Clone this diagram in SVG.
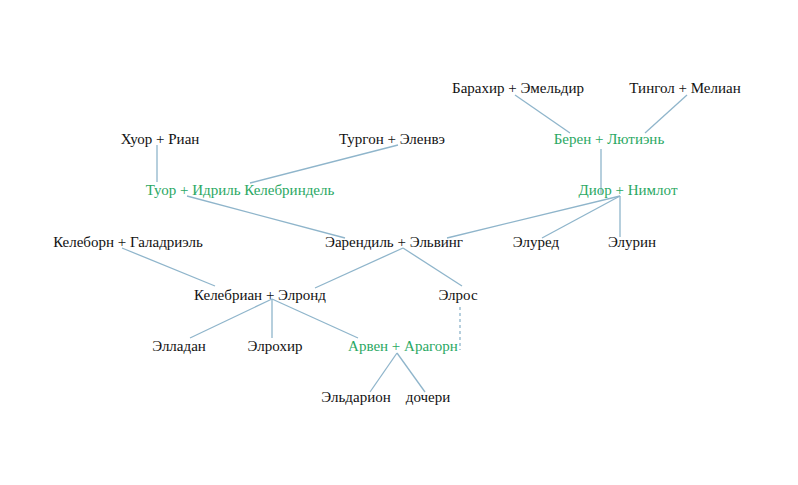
<svg xmlns="http://www.w3.org/2000/svg" width="798" height="485" viewBox="0 0 798 485">
<style>
text{font-family:"Liberation Serif","Times New Roman","DejaVu Serif",serif;font-size:15px;fill:#111;text-anchor:middle}
text.g{fill:#2aa863}
#connectors line{stroke:#8fb5cb;stroke-width:1.3}
#connectors line.d{stroke-dasharray:3,3}
</style>
<rect width="798" height="485" fill="#fff"/>
<g id="connectors">
<line x1="515" y1="95" x2="570" y2="133"/>
<line x1="687" y1="95" x2="645" y2="133"/>
<line x1="601" y1="149" x2="601" y2="194"/>
<line x1="620" y1="196" x2="447" y2="238"/>
<line x1="620" y1="196" x2="542" y2="238"/>
<line x1="620" y1="196" x2="620" y2="237"/>
<line x1="157" y1="145" x2="157" y2="182"/>
<line x1="398" y1="145" x2="250" y2="183"/>
<line x1="187" y1="196" x2="345" y2="238"/>
<line x1="122" y1="248" x2="215" y2="286"/>
<line x1="403" y1="248" x2="315" y2="288"/>
<line x1="403" y1="248" x2="462" y2="286"/>
<line x1="272" y1="299" x2="190" y2="338"/>
<line x1="272" y1="299" x2="272" y2="338"/>
<line x1="272" y1="299" x2="358" y2="338"/>
<line class="d" x1="460" y1="307" x2="460" y2="350"/>
<line x1="397" y1="353" x2="370" y2="392"/>
<line x1="397" y1="353" x2="425" y2="392"/>
</g>
<g id="n-barahir"><text x="518" y="93">Барахир + Эмельдир</text></g>
<g id="n-thingol"><text x="685" y="93">Тингол + Мелиан</text></g>
<g id="n-huor"><text x="160" y="144">Хуор + Риан</text></g>
<g id="n-turgon"><text x="392" y="144">Тургон + Эленвэ</text></g>
<g id="n-beren"><text class="g" x="609" y="144">Берен + Лютиэнь</text></g>
<g id="n-tuor"><text class="g" x="240" y="195">Туор + Идриль Келебриндель</text></g>
<g id="n-dior"><text class="g" x="628" y="195">Диор + Нимлот</text></g>
<g id="n-celeborn"><text x="128" y="247">Келеборн + Галадриэль</text></g>
<g id="n-earendil"><text x="394" y="247">Эарендиль + Эльвинг</text></g>
<g id="n-elured"><text x="536" y="247">Элуред</text></g>
<g id="n-elurin"><text x="632" y="247">Элурин</text></g>
<g id="n-celebrian"><text x="260" y="300">Келебриан + Элронд</text></g>
<g id="n-elros"><text x="458" y="300">Элрос</text></g>
<g id="n-elladan"><text x="179" y="351">Элладан</text></g>
<g id="n-elrohir"><text x="275" y="351">Элрохир</text></g>
<g id="n-arwen"><text class="g" x="403" y="351">Арвен + Арагорн</text></g>
<g id="n-eldarion"><text x="356" y="402">Эльдарион</text></g>
<g id="n-daughters"><text x="428" y="402">дочери</text></g>
</svg>
